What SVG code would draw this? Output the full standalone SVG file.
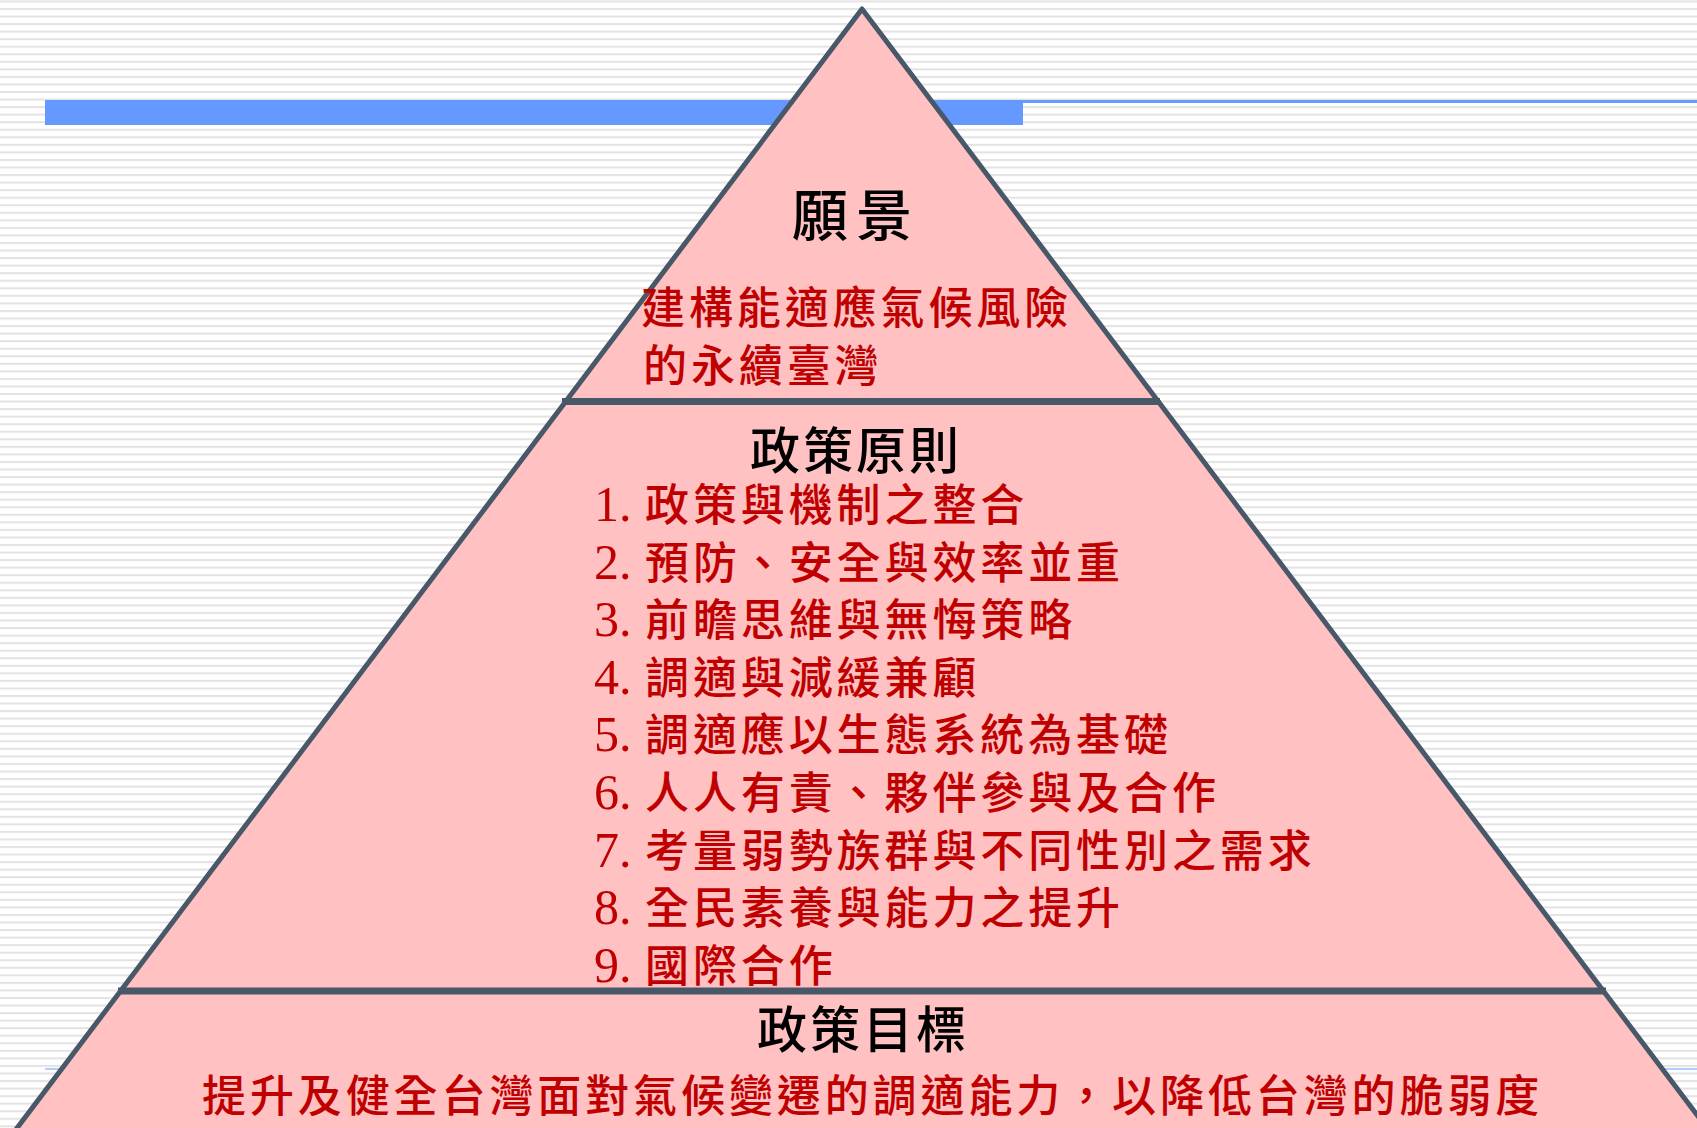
<svg xmlns="http://www.w3.org/2000/svg" width="1697" height="1128" viewBox="0 0 1697 1128">
  <defs>
    <pattern id="stripes" patternUnits="userSpaceOnUse" x="0" y="0.4" width="20" height="7.55">
      <rect x="0" y="0" width="20" height="7.55" fill="#ffffff"/>
      <rect x="0" y="0" width="20" height="2" fill="#e3e3e3"/>
    </pattern>
  </defs>
  <style>
    .tier { fill: #FFC1C1; stroke: #485868; stroke-width: 5; stroke-linejoin: round; }
    .divider { stroke: #485868; stroke-width: 7; fill: none; }
    .head { font-family: "Noto Sans CJK TC", "Noto Sans CJK SC", sans-serif; fill: #000000; font-weight: 500; }
    .red { font-family: "Noto Sans CJK TC", "Noto Sans CJK SC", sans-serif; fill: #C00000; font-size: 44px; letter-spacing: 3.9px; font-weight: 500; }
    .num { font-family: "Liberation Serif", serif; font-size: 50px; letter-spacing: 0; }
  </style>

  <rect x="0" y="0" width="1697" height="1128" fill="url(#stripes)"/>

  <g id="decor">
    <rect x="45" y="100" width="978" height="25" fill="#6699FF"/>
    <rect x="1023" y="100" width="674" height="3" fill="#6699FF"/>
    <rect x="45" y="1068.5" width="1652" height="1" fill="#6699FF"/>
  </g>

  <g id="tier-goals">
    <polygon class="tier" points="120.6,991 1603.4,991 1716,1140 8,1140"/>
    <text class="head" x="757" y="1048" font-size="50" letter-spacing="3">政策目標</text>
    <text class="red" x="202" y="1112">提升及健全台灣面對氣候變遷的調適能力，以降低台灣的脆弱度</text>
  </g>

  <g id="tier-principles">
    <polygon class="tier" points="565.7,401.5 1158.3,401.5 1603.4,991 120.6,991"/>
    <text class="head" x="750" y="469" font-size="50" letter-spacing="3">政策原則</text>
    <text class="red" y="521"><tspan class="num" x="594">1.</tspan><tspan x="645">政策與機制之整合</tspan></text>
    <text class="red" y="578.6"><tspan class="num" x="594">2.</tspan><tspan x="645">預防、安全與效率並重</tspan></text>
    <text class="red" y="636.2"><tspan class="num" x="594">3.</tspan><tspan x="645">前瞻思維與無悔策略</tspan></text>
    <text class="red" y="693.8"><tspan class="num" x="594">4.</tspan><tspan x="645">調適與減緩兼顧</tspan></text>
    <text class="red" y="751.4"><tspan class="num" x="594">5.</tspan><tspan x="645">調適應以生態系統為基礎</tspan></text>
    <text class="red" y="809"><tspan class="num" x="594">6.</tspan><tspan x="645">人人有責、夥伴參與及合作</tspan></text>
    <text class="red" y="866.6"><tspan class="num" x="594">7.</tspan><tspan x="645">考量弱勢族群與不同性別之需求</tspan></text>
    <text class="red" y="924.2"><tspan class="num" x="594">8.</tspan><tspan x="645">全民素養與能力之提升</tspan></text>
    <text class="red" y="981.8"><tspan class="num" x="594">9.</tspan><tspan x="645">國際合作</tspan></text>
  </g>

  <g id="tier-vision">
    <polygon class="tier" points="862,9 1158.3,401.5 565.7,401.5"/>
    <text class="head" x="792" y="236" font-size="56" letter-spacing="8">願景</text>
    <text class="red" x="641" y="324">建構能適應氣候風險</text>
    <text class="red" x="643" y="382">的永續臺灣</text>
  </g>

  <g id="connectors">
    <line class="divider" x1="562" y1="401.5" x2="1160" y2="401.5"/>
    <line class="divider" x1="118" y1="991" x2="1606" y2="991"/>
  </g>
</svg>
